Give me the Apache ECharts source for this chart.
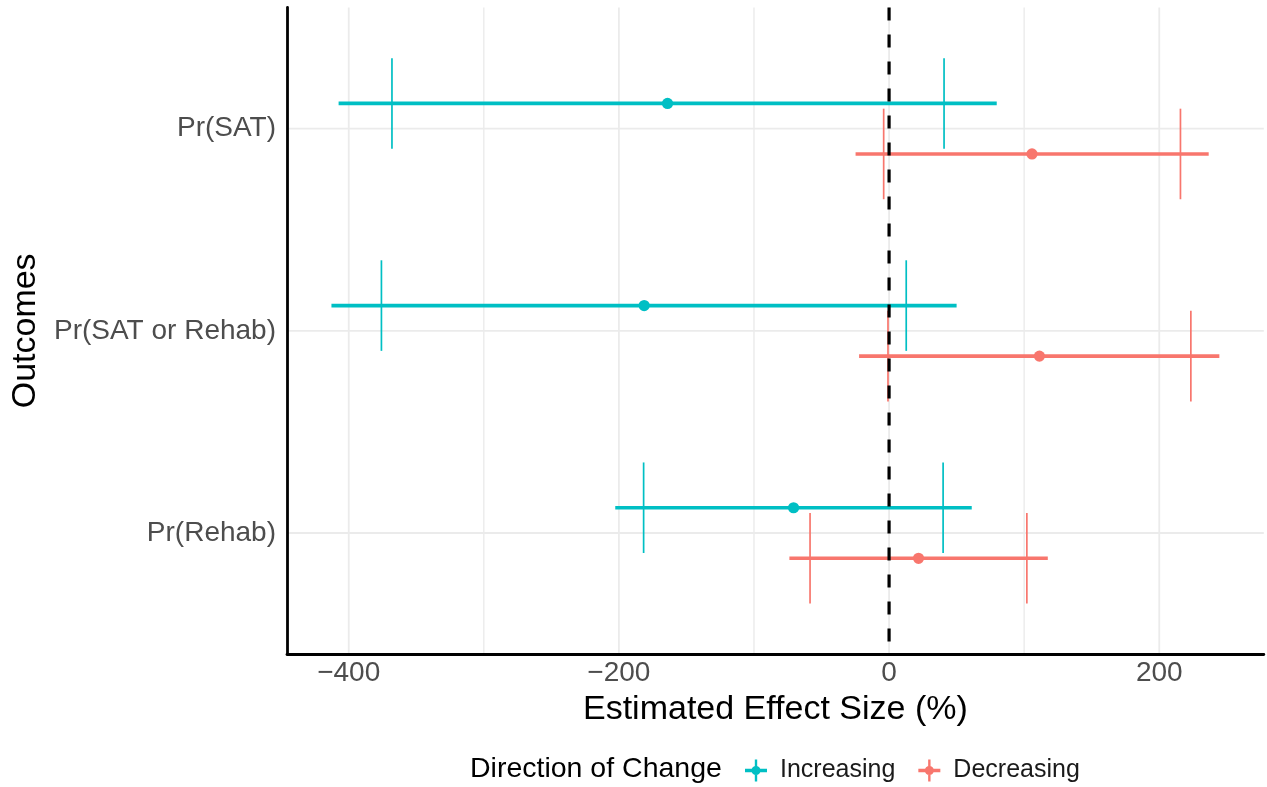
<!DOCTYPE html>
<html>
<head>
<meta charset="utf-8">
<script src="https://cdn.jsdelivr.net/npm/echarts@6/dist/echarts.min.js"></script>
<style>
  html, body { margin: 0; padding: 0; background: #ffffff; }
  #chart { width: 1267px; height: 787px; }
</style>
</head>
<body>
<div id="chart"></div>
<script>
// Outcomes, top to bottom
const categories = ['Pr(SAT)', 'Pr(SAT or Rehab)', 'Pr(Rehab)'];

// Increasing direction: point estimate, wide interval, narrow interval (%)
const increasingEstimate  = [-164.0, -181.3, -70.7];
const increasingOuterLow  = [-407.5, -412.8, -202.7];
const increasingOuterHigh = [79.7, 50.0, 61.2];
const increasingInnerLow  = [-368.0, -375.8, -181.7];
const increasingInnerHigh = [40.7, 12.7, 40.0];

// Decreasing direction
const decreasingEstimate  = [105.8, 111.3, 21.8];
const decreasingOuterLow  = [-24.8, -22.2, -73.8];
const decreasingOuterHigh = [236.6, 244.5, 117.5];
const decreasingInnerLow  = [-4.0, -0.8, -58.5];
const decreasingInnerHigh = [215.7, 223.4, 102.0];

// Axis ticks and grid
const xTickLabels = [-400, -200, 0, 200];
const xMinorGrid = [-300, -100, 100];
const xRange = [-445.7, 277.4];
const referenceLine = [0];

const COLOR_INC = '#00BFC4';
const COLOR_DEC = '#F8766D';
const FONT = "'Liberation Sans', Arial, Helvetica, sans-serif";
const DODGE = 0.125;      // vertical offset of each direction within a row
const CAP_HALF = 0.224;   // half-height of the narrow-interval bars

function rows(est, lo, hi, inLo, inHi) {
  return categories.map((c, i) => [est[i], lo[i], hi[i], inLo[i], inHi[i], i + 1]);
}

function rangeRenderer(offset, color) {
  return function (params, api) {
    const y = api.value(5) + offset;
    const p = api.coord([api.value(0), y]);
    const lo = api.coord([api.value(1), y]);
    const hi = api.coord([api.value(2), y]);
    const a1 = api.coord([api.value(3), y - CAP_HALF]);
    const a2 = api.coord([api.value(3), y + CAP_HALF]);
    const b1 = api.coord([api.value(4), y - CAP_HALF]);
    const b2 = api.coord([api.value(4), y + CAP_HALF]);
    return {
      type: 'group',
      children: [
        { type: 'line', shape: { x1: lo[0], y1: lo[1], x2: hi[0], y2: hi[1] },
          style: { stroke: color, lineWidth: 3.6 } },
        { type: 'line', shape: { x1: a1[0], y1: a1[1], x2: a2[0], y2: a2[1] },
          style: { stroke: color, lineWidth: 1.7 } },
        { type: 'line', shape: { x1: b1[0], y1: b1[1], x2: b2[0], y2: b2[1] },
          style: { stroke: color, lineWidth: 1.7 } },
        { type: 'circle', shape: { cx: p[0], cy: p[1], r: 5.6 },
          style: { fill: color } }
      ]
    };
  };
}

// legend key: vertical bar, horizontal bar and a dot
const KEY_ICON = 'path://M10.7,0h2.6v24h-2.6z M0,10.2h24v3.6h-24z M7,12a5,5 0 1,1 10,0a5,5 0 1,1 -10,0z';

const chart = echarts.init(document.getElementById('chart'), null, { renderer: 'canvas' });

chart.setOption({
  animation: false,
  backgroundColor: '#ffffff',
  textStyle: { fontFamily: FONT },
  grid: { left: 287, right: 3.2, top: 7.4, bottom: 132.7, containLabel: false },
  xAxis: {
    type: 'value',
    min: xRange[0],
    max: xRange[1],
    name: 'Estimated Effect Size (%)',
    nameLocation: 'middle',
    nameGap: 30,
    nameTextStyle: { fontSize: 34, color: '#000000', fontFamily: FONT },
    axisLine: { show: true, onZero: false, lineStyle: { color: '#000000', width: 2.8 } },
    axisTick: { show: false },
    splitLine: { show: false },
    axisLabel: {
      customValues: xTickLabels,
      formatter: v => (v < 0 ? '\u2212' + Math.abs(v) : String(v)),
      fontSize: 28,
      color: '#4D4D4D',
      margin: 5,
      fontFamily: FONT
    }
  },
  yAxis: {
    type: 'value',
    min: 0.4,
    max: 3.6,
    inverse: true,
    name: 'Outcomes',
    nameLocation: 'middle',
    nameGap: 238,
    nameRotate: 90,
    nameTextStyle: { fontSize: 34, color: '#000000', fontFamily: FONT },
    axisLine: { show: true, onZero: false, lineStyle: { color: '#000000', width: 2.8 } },
    axisTick: { show: false },
    splitLine: { show: false },
    axisLabel: {
      customValues: categories.map((c, i) => i + 1),
      formatter: v => categories[Math.round(v) - 1] || '',
      fontSize: 28,
      color: '#4D4D4D',
      margin: 11,
      fontFamily: FONT
    }
  },
  legend: {
    left: 740,
    top: 753,
    itemWidth: 22,
    itemHeight: 22,
    itemGap: 23,
    selectedMode: false,
    textStyle: { fontSize: 25, color: '#1A1A1A', fontFamily: FONT, padding: [0, 0, 0, 8] },
    data: [
      { name: 'Increasing', icon: KEY_ICON },
      { name: 'Decreasing', icon: KEY_ICON }
    ]
  },
  graphic: [{
    type: 'text',
    left: 470,
    top: 755,
    style: { text: 'Direction of Change', fontSize: 28.5, fill: '#000000', fontFamily: FONT }
  }],
  series: [
    {
      // vertical grid lines (major and minor)
      type: 'custom',
      silent: true,
      z: 0,
      data: xTickLabels.map(v => [v, 1]).concat(xMinorGrid.map(v => [v, 0])),
      encode: { x: 0 },
      renderItem: function (params, api) {
        const top = api.coord([api.value(0), 0.4]);
        const bot = api.coord([api.value(0), 3.6]);
        return { type: 'line', shape: { x1: top[0], y1: top[1], x2: bot[0], y2: bot[1] },
          style: { stroke: '#EBEBEB', lineWidth: api.value(1) ? 1.8 : 1.4 } };
      }
    },
    {
      // horizontal grid lines at each outcome
      type: 'custom',
      silent: true,
      z: 0,
      data: categories.map((c, i) => [i + 1]),
      encode: { y: 0 },
      renderItem: function (params, api) {
        const l = api.coord([xRange[0], api.value(0)]);
        const r = api.coord([xRange[1], api.value(0)]);
        return { type: 'line', shape: { x1: l[0], y1: l[1], x2: r[0], y2: r[1] },
          style: { stroke: '#EBEBEB', lineWidth: 1.8 } };
      }
    },
    {
      name: 'Increasing',
      type: 'custom',
      z: 2,
      itemStyle: { color: COLOR_INC },
      data: rows(increasingEstimate, increasingOuterLow, increasingOuterHigh,
                 increasingInnerLow, increasingInnerHigh),
      encode: { x: [0, 1, 2, 3, 4], y: 5 },
      renderItem: rangeRenderer(-DODGE, COLOR_INC)
    },
    {
      name: 'Decreasing',
      type: 'custom',
      z: 2,
      itemStyle: { color: COLOR_DEC },
      data: rows(decreasingEstimate, decreasingOuterLow, decreasingOuterHigh,
                 decreasingInnerLow, decreasingInnerHigh),
      encode: { x: [0, 1, 2, 3, 4], y: 5 },
      renderItem: rangeRenderer(DODGE, COLOR_DEC)
    },
    {
      // dashed reference line at zero effect
      type: 'custom',
      silent: true,
      z: 3,
      data: referenceLine.map(v => [v]),
      encode: { x: 0 },
      renderItem: function (params, api) {
        const top = api.coord([api.value(0), 0.4]);
        const bot = api.coord([api.value(0), 3.6]);
        return { type: 'line', shape: { x1: top[0], y1: top[1], x2: bot[0], y2: bot[1] },
          style: { stroke: '#000000', lineWidth: 3.2, lineDash: [13, 14] } };
      }
    }
  ]
});
</script>
</body>
</html>
